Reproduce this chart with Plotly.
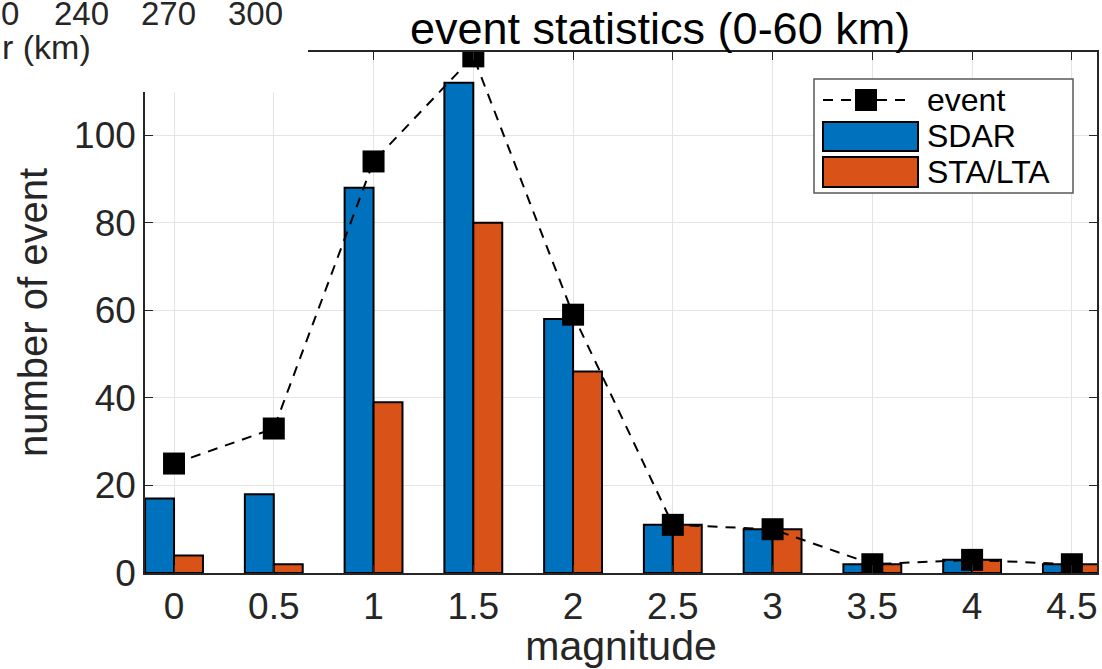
import plotly.graph_objects as go

magnitude = [0, 0.5, 1, 1.5, 2, 2.5, 3, 3.5, 4, 4.5]
event = [25, 33, 94, 118, 59, 11, 10, 2, 3, 2]
sdar = [17, 18, 88, 112, 58, 11, 10, 2, 3, 2]
sta_lta = [4, 2, 39, 80, 46, 11, 10, 2, 3, 2]
x_ticks = [0, 0.5, 1, 1.5, 2, 2.5, 3, 3.5, 4, 4.5]
x_tick_text = ["0", "0.5", "1", "1.5", "2", "2.5", "3", "3.5", "4", "4.5"]
y_ticks = [0, 20, 40, 60, 80, 100, 120]
series_names = ["event", "SDAR", "STA/LTA"]
neighbour_ticks = ["0", "240", "270", "300"]

BLUE = "#0072BD"
ORANGE = "#D95319"
AXC = "#262626"
FONT = "Liberation Sans"

W, H = 1102, 669
ML, MR, MT, MB = 145, 5, 52, 96
PW, PH = W - ML - MR, H - MT - MB


def px(xp):
    return (xp - ML) / PW


def py(yp):
    return 1 - (yp - MT) / PH


fig = go.Figure()
fig.add_trace(go.Bar(
    x=magnitude, y=sdar, name=series_names[1], width=0.145, offset=-0.145,
    marker=dict(color=BLUE, line=dict(color="black", width=2)),
))
fig.add_trace(go.Bar(
    x=magnitude, y=sta_lta, name=series_names[2], width=0.145, offset=0,
    marker=dict(color=ORANGE, line=dict(color="black", width=2)),
))
fig.add_trace(go.Scatter(
    x=magnitude, y=event, name=series_names[0], mode="lines+markers",
    line=dict(color="black", width=2, dash="10px,8px"),
    marker=dict(symbol="square", size=22, color="black"),
))

shapes = [
    # blank patch over the upper-left corner (overlapped by neighbouring panel)
    dict(type="rect", xref="paper", yref="paper",
         x0=px(-20), x1=px(308), y0=py(92), y1=py(-20),
         fillcolor="white", line=dict(width=0), layer="above"),
    # legend box
    dict(type="rect", xref="paper", yref="paper",
         x0=px(814), x1=px(1073), y0=py(193), y1=py(79),
         fillcolor="white", line=dict(color="#5a5a5a", width=1.5), layer="above"),
    # legend: event line
    dict(type="line", xref="paper", yref="paper",
         x0=px(823), x1=px(910), y0=py(100), y1=py(100),
         line=dict(color="black", width=2, dash="10px,8px"), layer="above"),
    dict(type="rect", xref="paper", yref="paper",
         x0=px(855), x1=px(877), y0=py(111), y1=py(89),
         fillcolor="black", line=dict(width=0), layer="above"),
    # legend: SDAR
    dict(type="rect", xref="paper", yref="paper",
         x0=px(823), x1=px(918), y0=py(151), y1=py(122),
         fillcolor=BLUE, line=dict(color="black", width=2), layer="above"),
    # legend: STA/LTA
    dict(type="rect", xref="paper", yref="paper",
         x0=px(823), x1=px(918), y0=py(187), y1=py(157),
         fillcolor=ORANGE, line=dict(color="black", width=2), layer="above"),
]

annotations = [
    dict(text="event statistics (0-60 km)", x=px(660), y=py(28), xref="paper", yref="paper",
         xanchor="center", yanchor="middle", showarrow=False,
         font=dict(size=45, family=FONT, color="black")),
]
for name, yc in zip(series_names, [100, 136, 172]):
    annotations.append(dict(text=name, x=px(925), y=py(yc), xref="paper", yref="paper",
                            xanchor="left", yanchor="middle", showarrow=False,
                            font=dict(size=32, family=FONT, color="black")))
for t, xc in zip(neighbour_ticks, [10, 81, 168, 255]):
    annotations.append(dict(text=t, x=px(xc), y=py(14), xref="paper", yref="paper",
                            xanchor="center", yanchor="middle", showarrow=False,
                            font=dict(size=33, family=FONT, color=AXC)))
annotations.append(dict(text="r (km)", x=px(0), y=py(47), xref="paper", yref="paper",
                        xanchor="left", yanchor="middle", showarrow=False,
                        font=dict(size=34, family=FONT, color=AXC)))

fig.update_layout(
    width=W, height=H,
    margin=dict(l=ML, r=MR, t=MT, b=MB),
    paper_bgcolor="white", plot_bgcolor="white",
    font=dict(family=FONT, color=AXC, size=37),
    showlegend=False,
    xaxis=dict(
        range=[-0.1455, 4.626], tickvals=x_ticks, ticktext=x_tick_text,
        showgrid=True, gridcolor="#e4e4e4", gridwidth=1,
        showline=True, linecolor=AXC, linewidth=1.5, mirror="ticks",
        ticks="inside", ticklen=8, tickcolor=AXC,
        tickfont=dict(size=37, family=FONT, color=AXC),
        title=dict(text="magnitude", font=dict(size=41, family=FONT, color=AXC), standoff=12),
        zeroline=False, automargin=False,
    ),
    yaxis=dict(
        range=[0, 119], tickvals=y_ticks,
        showgrid=True, gridcolor="#e4e4e4", gridwidth=1,
        showline=True, linecolor=AXC, linewidth=1.5, mirror="ticks",
        ticks="inside", ticklen=8, tickcolor=AXC,
        tickfont=dict(size=37, family=FONT, color=AXC),
        title=dict(text="number of event", font=dict(size=40, family=FONT, color=AXC), standoff=14),
        zeroline=False, automargin=False,
    ),
    shapes=shapes,
    annotations=annotations,
)

fig.write_html("out.html", config={"displayModeBar": False},
               post_script="document.body.style.margin='0';document.body.style.overflow='hidden';")
